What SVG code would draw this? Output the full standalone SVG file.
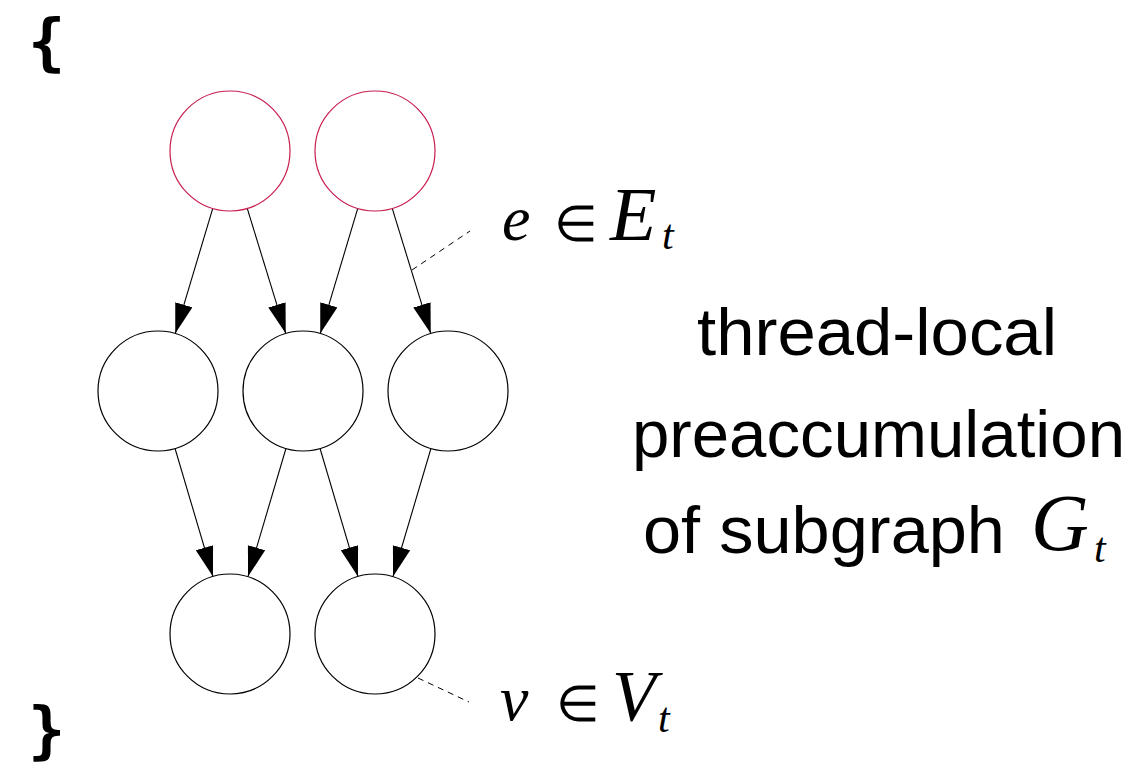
<svg xmlns="http://www.w3.org/2000/svg" width="1139" height="767" viewBox="0 0 1139 767">
<defs>
<style>
.node{fill:#fff;stroke:#000;stroke-width:1.2}
.src{fill:#fff;stroke:#c81d4e;stroke-width:1.2}
.edge{stroke:#000;stroke-width:1.1;fill:none;marker-end:url(#ah)}
.dash{stroke:#000;stroke-width:1;stroke-dasharray:6 5;fill:none}
.brace{font-family:"DejaVu Sans Mono","Liberation Mono",monospace;font-size:62px;font-weight:bold;fill:#000}
.lab{font-family:"Liberation Sans",Arial,sans-serif;font-size:67px;fill:#000}
.math{font-family:"Liberation Serif","Times New Roman",serif;font-size:64px;fill:#000}
.it{font-style:italic}
.rel{font-size:50px}
.sub{font-size:42px}
</style>
<marker id="ah" markerUnits="userSpaceOnUse" markerWidth="31" markerHeight="19" refX="30" refY="9" orient="auto">
<path d="M0,0 L30,9 L0,18 z" fill="#000"/>
</marker>
</defs>
<rect width="1139" height="767" fill="#fff"/>
<text class="brace" x="28" y="63">{</text>
<text class="brace" x="28" y="751">}</text>
<g id="connectors">
<line class="edge" x1="212.76" y1="208.46" x2="175.24" y2="333.54"/>
<line class="edge" x1="247.24" y1="208.46" x2="285.76" y2="333.54"/>
<line class="edge" x1="357.76" y1="208.46" x2="320.24" y2="333.54"/>
<line class="edge" x1="392.24" y1="208.46" x2="430.76" y2="333.54"/>
<line class="edge" x1="175.05" y1="448.53" x2="212.95" y2="576.47"/>
<line class="edge" x1="285.95" y1="448.53" x2="248.05" y2="576.47"/>
<line class="edge" x1="320.05" y1="448.53" x2="357.95" y2="576.47"/>
<line class="edge" x1="430.95" y1="448.53" x2="393.05" y2="576.47"/>
<line class="dash" x1="412" y1="270" x2="470" y2="231"/>
<line class="dash" x1="418" y1="678" x2="469" y2="702"/>
</g>
<g id="t1"><circle class="src" cx="230" cy="151" r="60"/></g>
<g id="t2"><circle class="src" cx="375" cy="151" r="60"/></g>
<g id="m1"><circle class="node" cx="158" cy="391" r="60"/></g>
<g id="m2"><circle class="node" cx="303" cy="391" r="60"/></g>
<g id="m3"><circle class="node" cx="448" cy="391" r="60"/></g>
<g id="b1"><circle class="node" cx="230" cy="634" r="60"/></g>
<g id="b2"><circle class="node" cx="375" cy="634" r="60"/></g>
<g id="edge-label">
<text class="math" y="240"><tspan class="it" x="502">e</tspan><tspan class="rel" x="554" y="241">∈</tspan><tspan class="it" x="610" y="240" style="font-size:76px">E</tspan><tspan class="it sub" x="662" y="249">t</tspan></text>
</g>
<g id="vertex-label">
<text class="math" y="720"><tspan class="it" x="500">v</tspan><tspan class="rel" x="556" y="721">∈</tspan><tspan class="it" x="612" y="720" style="font-size:72px">V</tspan><tspan class="it sub" x="658" y="732">t</tspan></text>
</g>
<g id="description">
<text class="lab" x="697" y="355" textLength="360" lengthAdjust="spacingAndGlyphs">thread-local</text>
<text class="lab" x="632" y="457" textLength="493" lengthAdjust="spacingAndGlyphs">preaccumulation</text>
<text class="lab" x="643" y="553" textLength="362" lengthAdjust="spacingAndGlyphs">of subgraph</text>
<text class="math" y="550"><tspan class="it" x="1031" style="font-size:80px">G</tspan><tspan class="it sub" x="1094" y="562">t</tspan></text>
</g>
</svg>
